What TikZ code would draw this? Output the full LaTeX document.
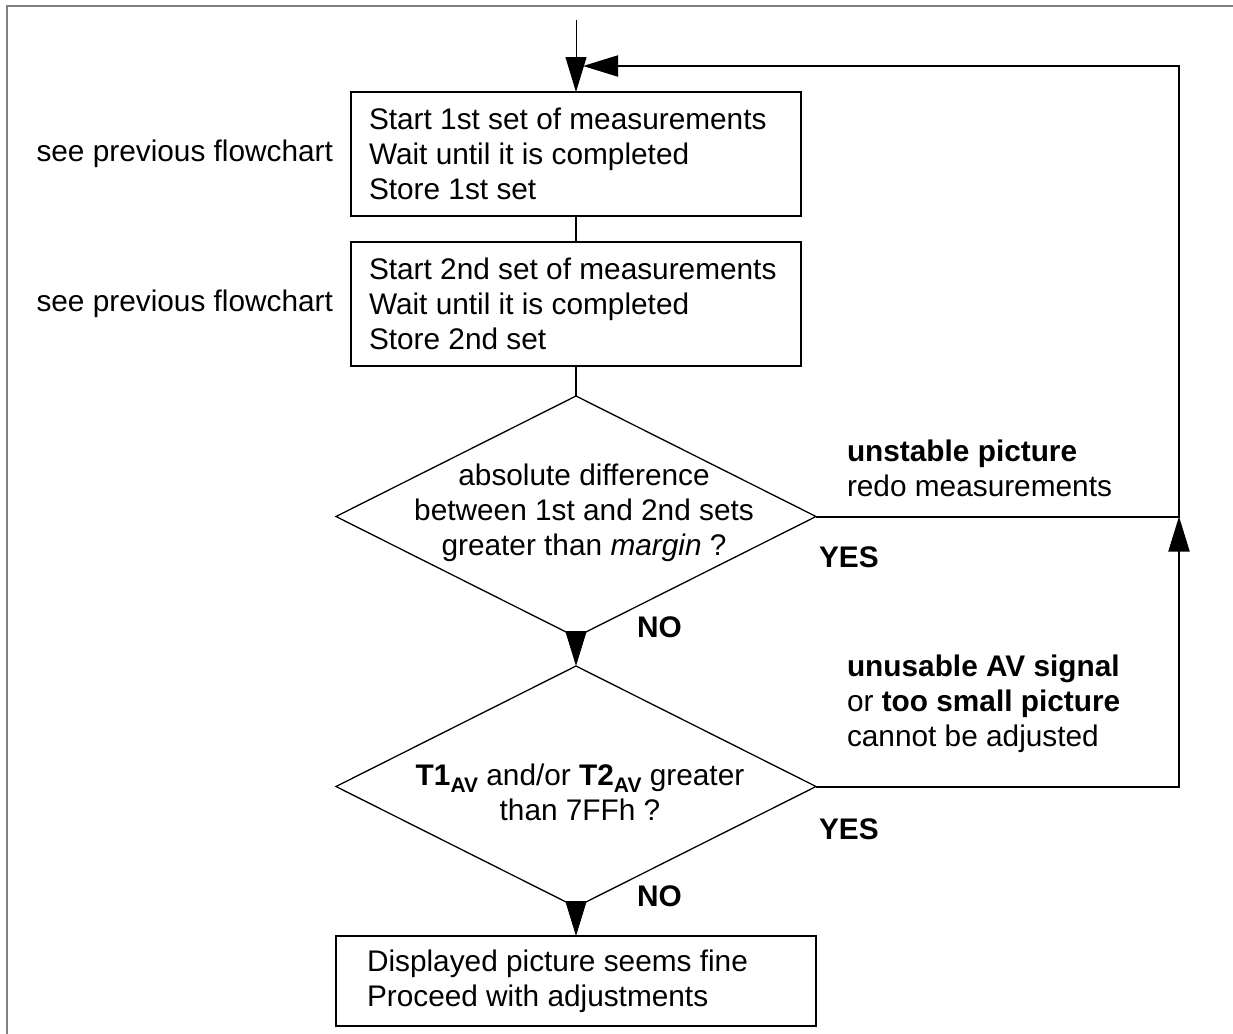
\documentclass[tikz,border=0pt]{standalone}
\usepackage{fontspec}
\setmainfont{Liberation Sans}
\usepackage{amsmath}
\usetikzlibrary{arrows.meta}
\usetikzlibrary{positioning,shapes.geometric}
\newcommand{\avsub}{\raisebox{-3.5pt}{\fontsize{10.5}{10.5}\selectfont\bfseries AV}}

\begin{document}
\begin{tikzpicture}[x=0.5pt, y=-0.5pt,
        every node/.style={inner sep=0pt, outer sep=0pt, font=\fontsize{14.9}{17.5}\selectfont},
        stepbox/.style={draw, line width=1pt, rectangle, minimum width=225pt, minimum height=62pt, text width=207pt, align=flush left},
        decision/.style={draw, line width=0.65pt, diamond, minimum width=240pt, minimum height=120.5pt},
        flow/.style={line width=1pt},
        node distance=14.5pt, >={Triangle[length=17.5pt,width=10.5pt]}
      ]
      \useasboundingbox (0,0) rectangle (1233,1034);
      \draw [gray, line width=1pt] (7,1040) -- (7,6) -- (1240,6);
      \node (s1) [stepbox] at (576,154) {Start 1st set of measurements\\Wait until it is completed\\Store 1st set};
      \node (s2) [stepbox, below=13pt of s1] {Start 2nd set of measurements\\Wait until it is completed\\Store 2nd set};
      \node (d1) [decision, below=15pt of s2] {};
      \node (d2) [decision, below=of d1] {};
      \node (s3) [stepbox, below=of d2, minimum width=240pt, minimum height=45pt, text width=209pt] {Displayed picture seems fine\\Proceed with adjustments};
      \node (d1text) [align=center] at ([xshift=4pt,yshift=2pt]d1) {absolute difference\\between 1st and 2nd sets\\greater than \textit{margin} ?};
      \node (d2text) [align=center] at ([xshift=2pt,yshift=-3pt]d2) {\textbf{T1}\avsub{} and/or \textbf{T2}\avsub{} greater\\than 7FFh ?};
      \node (see1) [left=9pt of s1] {see previous flowchart};
      \node (see2) [left=9pt of s2] {see previous flowchart};
      \node (unstable) [anchor=west, align=left] at ([xshift=15.5pt,yshift=24pt]d1.east) {\textbf{unstable picture}\\redo measurements};
      \node (yes1) [anchor=west] at ([xshift=1.5pt,yshift=-20.5pt]d1.east) {\textbf{YES}};
      \node (no1) [anchor=west] at ([xshift=30.5pt,yshift=5pt]d1.south) {\textbf{NO}};
      \node (unusable) [anchor=west, align=left] at ([xshift=15.5pt,yshift=41.5pt]d2.east) {\textbf{unusable AV signal}\\or \textbf{too small picture}\\cannot be adjusted};
      \node (yes2) [anchor=west] at ([xshift=1.5pt,yshift=-21.5pt]d2.east) {\textbf{YES}};
      \node (no2) [anchor=west] at ([xshift=30.5pt,yshift=5.5pt]d2.south) {\textbf{NO}};
      \coordinate (in) at ([yshift=36pt]s1.north);
      \coordinate (merge) at ([xshift=3.5pt,yshift=13pt]s1.north);
      \coordinate (corner) at (1179,66);
      \draw [->, line width=0.5pt] (in) -- (s1.north);
      \draw [flow] (s1) -- (s2);
      \draw [flow] (s2) -- (d1);
      \draw [flow, ->] (d1) -- (d2);
      \draw [flow, ->] (d2) -- (s3);
      \draw [flow, ->] (d1.east) -| (corner) -- (merge);
      \draw [flow, ->] (d2.east) -| (corner |- d1.east);
    \end{tikzpicture}
\end{document}
